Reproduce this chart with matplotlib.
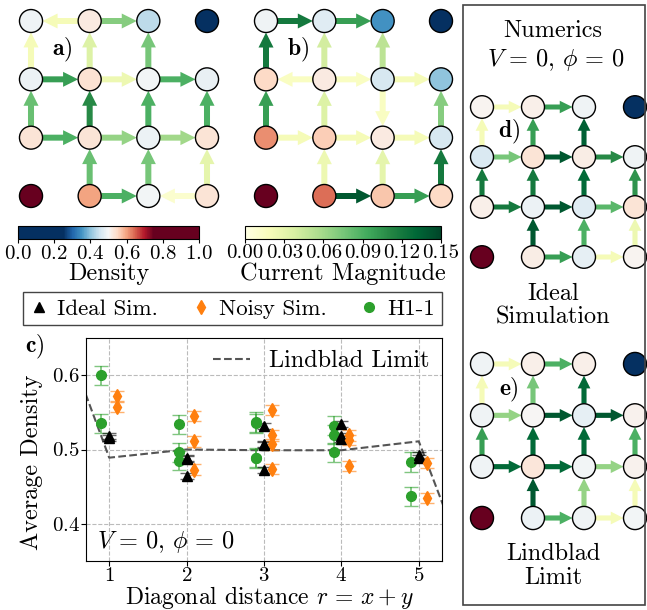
import numpy as np
import matplotlib
matplotlib.use('Agg')
import matplotlib.pyplot as plt
from matplotlib.colors import ListedColormap, Normalize
from matplotlib.patches import Circle, Rectangle
from matplotlib.cm import ScalarMappable

plt.rcParams['font.family'] = 'serif'
plt.rcParams['font.serif'] = ['cmr10']
plt.rcParams['mathtext.fontset'] = 'cm'
plt.rcParams['axes.formatter.use_mathtext'] = True
plt.rcParams['axes.unicode_minus'] = False

W, H = 647, 610
nan = np.nan

# ---- lattice data: rows listed top (y=3) to bottom (y=0) ----
# horizontal currents: 4 rows x 3 bonds, + means to the right
# vertical currents: 3 rows (2-3, 1-2, 0-1) x 4 columns, + means up
dens_a = [[0.489, 0.520, 0.437, 0.0],
          [0.485, 0.537, 0.496, 0.483],
          [0.535, 0.534, 0.488, 0.532],
          [1.0, 0.600, 0.496, 0.535]]
hcur_a = [[-0.02, 0.07, nan],
          [0.10, 0.025, 0.09],
          [0.09, 0.065, 0.06],
          [nan, 0.09, -0.01]]
vcur_a = [[0.02, 0.035, 0.075, nan],
          [0.08, 0.11, 0.09, 0.09],
          [nan, 0.08, 0.075, 0.03]]

dens_b = [[0.49, 0.47, 0.35, 0.0],
          [0.55, 0.52, 0.46, 0.40],
          [0.615, 0.56, 0.52, 0.46],
          [1.0, 0.64, 0.57, 0.55]]
hcur_b = [[0.12, 0.10, nan],
          [-0.015, 0.015, 0.02],
          [0.02, 0.02, 0.02],
          [nan, 0.14, 0.10]]
vcur_b = [[0.12, 0.04, 0.05, nan],
          [0.10, 0.035, -0.015, 0.07],
          [nan, 0.025, 0.03, 0.12]]

dens_d = [[0.507, 0.514, 0.489, 0.0],
          [0.464, 0.532, 0.518, 0.492],
          [0.515, 0.487, 0.472, 0.534],
          [1.0, 0.518, 0.480, 0.506]]
hcur_d = [[0.02, 0.10, nan],
          [0.075, 0.14, 0.11],
          [0.12, 0.14, 0.085],
          [nan, 0.10, 0.02]]
vcur_d = [[0.02, 0.10, 0.135, nan],
          [0.12, 0.12, 0.13, 0.105],
          [nan, 0.14, 0.09, 0.025]]

dens_e = [[0.49, 0.515, 0.515, 0.0],
          [0.49, 0.50, 0.48, 0.51],
          [0.49, 0.53, 0.495, 0.51],
          [1.0, 0.488, 0.49, 0.495]]
hcur_e = [[0.02, 0.09, nan],
          [0.065, 0.14, 0.14],
          [0.13, 0.13, 0.065],
          [nan, 0.09, 0.02]]
vcur_e = [[0.02, 0.075, 0.13, nan],
          [0.10, 0.13, 0.13, 0.09],
          [nan, 0.14, 0.065, 0.02]]

# ---- average density vs diagonal distance ----
r_vals = [1, 2, 3, 4, 5]
ideal_sim = [[0.518, 0.515], [0.489, 0.487, 0.464], [0.532, 0.507, 0.506, 0.472],
             [0.534, 0.518, 0.514], [0.492, 0.489]]
noisy_sim = [[0.572, 0.557], [0.545, 0.511, 0.473], [0.553, 0.519, 0.507, 0.474],
             [0.519, 0.513, 0.478], [0.482, 0.435]]
h1_1 = [[0.600, 0.535], [0.534, 0.496, 0.485], [0.537, 0.535, 0.489, 0.488],
        [0.532, 0.520, 0.496], [0.483, 0.437]]
ideal_err = 0.004
noisy_err = 0.007
h1_err = 0.013
lindblad_r = [0, 1, 2, 3, 4, 5, 6]
lindblad_dens = [0.77, 0.489, 0.500, 0.499, 0.499, 0.511, 0.238]

density_cmap = ListedColormap(plt.cm.RdBu_r(np.clip((np.linspace(0, 1, 256) - 0.5) * 2 + 0.5, 0, 1)))
current_cmap = plt.cm.YlGn
dnorm = Normalize(0, 1)
cnorm = Normalize(0, 0.15)

LAB = 17.5
TICK = 15
PARAMS = r'$V\,=\,0,\,\phi\,=\,0$'


def px_axes(fig, x0, y0, x1, y1):
    return fig.add_axes([x0 / W, 1 - y1 / H, (x1 - x0) / W, (y1 - y0) / H])


def draw_arrow(ax, p, q, c, r, shaft, hw, hl):
    p, q = np.array(p, float), np.array(q, float)
    d = q - p
    start = p + d * r
    end = q - d * r
    ax.arrow(start[0], start[1], *(end - start), width=shaft, head_width=hw, head_length=hl,
             length_includes_head=True, fc=current_cmap(cnorm(abs(c))), ec='none',
             zorder=1, clip_on=False)


def lattice(ax, dens, hcur, vcur, unit, size, label, lx, ly):
    ax.set_xlim(0, 3)
    ax.set_ylim(0, 3)
    ax.axis('off')
    r = 11.5 / unit
    shaft, hw, hl = 6.0 * size / unit, 15.0 * size / unit, 15.0 * size / unit
    dens = np.array(dens)[::-1]
    hcur = np.array(hcur, dtype=float)[::-1]
    vcur = np.array(vcur, dtype=float)[::-1]
    for y in range(4):
        for x in range(3):
            c = hcur[y, x]
            if np.isnan(c):
                continue
            a, b = ((x, y), (x + 1, y)) if c > 0 else ((x + 1, y), (x, y))
            draw_arrow(ax, a, b, c, r, shaft, hw, hl)
    for y in range(3):
        for x in range(4):
            c = vcur[y, x]
            if np.isnan(c):
                continue
            a, b = ((x, y), (x, y + 1)) if c > 0 else ((x, y + 1), (x, y))
            draw_arrow(ax, a, b, c, r, shaft, hw, hl)
    for y in range(4):
        for x in range(4):
            ax.add_patch(Circle((x, y), r, fc=density_cmap(dnorm(dens[y, x])), ec='k',
                                lw=1.0, zorder=2, clip_on=False))
    ax.text(lx, ly, r'$\mathbf{' + label + ')}$', fontsize=17, ha='center', va='center')


fig = plt.figure(figsize=(W / 100, H / 100), dpi=100)

ax_a = px_axes(fig, 31, 21, 207, 196)
lattice(ax_a, dens_a, hcur_a, vcur_a, 58.5, 1.0, 'a', 0.53, 2.5)
ax_b = px_axes(fig, 266, 21, 441, 196)
lattice(ax_b, dens_b, hcur_b, vcur_b, 58.3, 1.0, 'b', 0.55, 2.5)
ax_d = px_axes(fig, 482, 107, 635, 257)
lattice(ax_d, dens_d, hcur_d, vcur_d, 51.0, 0.85, 'd', 0.52, 2.5)
ax_e = px_axes(fig, 482, 364, 635, 518)
lattice(ax_e, dens_e, hcur_e, vcur_e, 51.0, 0.85, 'e', 0.52, 2.5)

# colorbars
cax1 = px_axes(fig, 18, 226, 199, 239)
cb1 = fig.colorbar(ScalarMappable(norm=dnorm, cmap=density_cmap), cax=cax1, orientation='horizontal')
cb1.set_ticks([0.0, 0.2, 0.4, 0.6, 0.8, 1.0])
cb1.ax.tick_params(labelsize=TICK, length=3, pad=1)
cb1.set_label('Density', fontsize=LAB, labelpad=0)

cax2 = px_axes(fig, 245, 226, 441, 239)
cb2 = fig.colorbar(ScalarMappable(norm=cnorm, cmap=current_cmap), cax=cax2, orientation='horizontal')
cb2.set_ticks([0.0, 0.03, 0.06, 0.09, 0.12, 0.15])
cb2.ax.xaxis.set_major_formatter(matplotlib.ticker.FormatStrFormatter('%.2f'))
cb2.ax.tick_params(labelsize=TICK, length=3, pad=1)
cb2.set_label('Current Magnitude', fontsize=LAB, labelpad=0)

# scatter panel
ax = px_axes(fig, 86, 338, 442, 561)
series = [(h1_1, h1_err, -0.1, 'o', '#2ca02c', 'H1-1'),
          (ideal_sim, ideal_err, 0.0, '^', 'k', 'Ideal Sim.'),
          (noisy_sim, noisy_err, 0.1, 'd', '#ff7f0e', 'Noisy Sim.')]
handles = {}
for vals, err, off, mk, col, name in series:
    xs = [r + off for r, v in zip(r_vals, vals) for _ in v]
    ys = [y for v in vals for y in v]
    h = ax.errorbar(xs, ys, yerr=err, fmt=mk, color=col, ms=7, capsize=5,
                    elinewidth=1.3, ecolor=col, zorder=3)
    for art in h[1] + h[2]:
        art.set_alpha(0.6)
    handles[name] = h[0]
ll, = ax.plot(lindblad_r, lindblad_dens, '--', color='#555555', lw=1.5, label='Lindblad Limit', zorder=2)
ax.set_xlim(0.7, 5.3)
ax.set_ylim(0.35, 0.65)
ax.set_xticks(r_vals)
ax.set_yticks([0.4, 0.5, 0.6])
ax.tick_params(labelsize=TICK, pad=1.0)
ax.grid(True, ls='--', color='#bbbbbb', lw=0.8)
ax.set_xlabel(r'Diagonal distance $r\,=\,x+y$', fontsize=17)
ax.xaxis.set_label_coords(0.515, -0.102)
ax.set_ylabel('Average Density', fontsize=LAB)
ax.yaxis.set_label_coords(-0.12, 0.444)
ax.legend(handles=[ll], loc='upper right', frameon=False, fontsize=LAB, handlelength=1.5,
          borderaxespad=0.1)
ax.text(0.03, 0.085, PARAMS, transform=ax.transAxes, fontsize=LAB, va='center')
ax.text(-0.17, 0.96, r'$\mathbf{c)}$', transform=ax.transAxes, fontsize=17, va='center')

fig.legend([handles['Ideal Sim.'], handles['Noisy Sim.'], handles['H1-1']],
           ['Ideal Sim.', 'Noisy Sim.', 'H1-1'], ncol=3, loc='center', mode='expand',
           bbox_to_anchor=(23 / W, 1 - 327 / H, 419 / W, 37 / H), fontsize=16.5, fancybox=False,
           edgecolor='#444444', framealpha=1, handlelength=0.8, columnspacing=1.5,
           handletextpad=0.4, borderpad=0.3, borderaxespad=0)

# right-hand box
fig.patches.append(Rectangle((463 / W, 1 - 605 / H), 182 / W, 600 / H, transform=fig.transFigure,
                             fill=False, ec='#444444', lw=1.2))
fig.text(553 / W, 1 - 31 / H, 'Numerics', fontsize=LAB, ha='center', va='center')
fig.text(556 / W, 1 - 60 / H, PARAMS, fontsize=LAB, ha='center', va='center')
fig.text(553 / W, 1 - 306 / H, 'Ideal\nSimulation', fontsize=LAB, ha='center', va='center',
         linespacing=1.1)
fig.text(553 / W, 1 - 566 / H, 'Lindblad\nLimit', fontsize=LAB, ha='center', va='center',
         linespacing=1.1)

fig.savefig('out.png', dpi=100)
